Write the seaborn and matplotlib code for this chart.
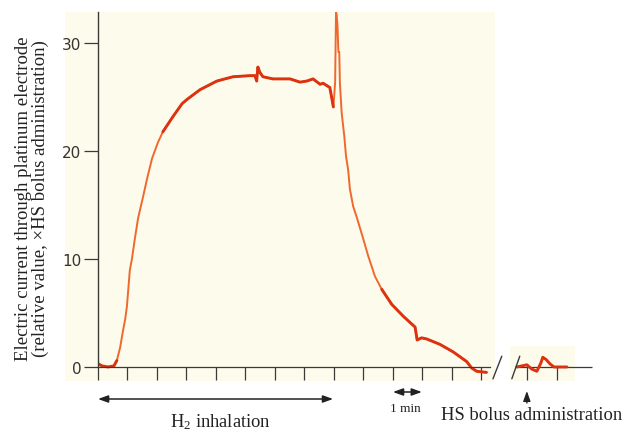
import matplotlib
matplotlib.use("Agg")
import matplotlib.pyplot as plt
import matplotlib.transforms as mtransforms
from matplotlib.patches import Rectangle
import numpy as np
import pandas as pd
import seaborn as sns

# Electrode current trace (minutes, relative value) during H2 inhalation and washout
time_min = [0.00, 0.14, 0.34, 0.54, 0.64, 0.75, 0.85, 0.92, 0.98, 1.08, 1.15, 1.25,
            1.36, 1.53, 1.66, 1.83, 2.03, 2.20, 2.37, 2.54, 2.85, 3.02, 3.46, 4.03,
            4.58, 5.15, 5.32, 5.38, 5.42, 5.49, 5.59, 5.93, 6.51, 6.85, 7.08, 7.29,
            7.53, 7.63, 7.86, 7.98, 8.01, 8.04, 8.07, 8.09, 8.12, 8.15, 8.18, 8.20,
            8.26, 8.35, 8.41, 8.48, 8.54, 8.65, 8.77, 8.99, 9.16, 9.39, 9.62, 9.96,
            10.35, 10.75, 10.78, 10.82, 10.97, 11.14, 11.59, 12.04, 12.50, 12.67,
            12.84, 13.17]
current = [0.3, 0.1, 0.0, 0.1, 0.6, 1.8, 3.4, 4.4, 5.6, 9.0, 10.0, 11.9,
           13.8, 15.8, 17.4, 19.3, 20.8, 21.8, 22.5, 23.2, 24.4, 24.8, 25.7, 26.5,
           26.9, 27.0, 27.0, 26.5, 27.8, 27.3, 26.9, 26.7, 26.7, 26.4, 26.5, 26.7,
           26.2, 26.3, 25.9, 24.1, 25.2, 26.4, 32.9, 32.7, 31.6, 29.2, 29.2, 26.4,
           23.6, 21.4, 19.5, 18.3, 16.5, 14.9, 13.9, 11.9, 10.3, 8.4, 7.2, 5.8,
           4.7, 3.7, 3.2, 2.5, 2.7, 2.6, 2.1, 1.4, 0.5, -0.1,
           -0.4, -0.5]

# Trace after the HS bolus (plotted past the axis break)
bolus_time = [14.20, 14.37, 14.54, 14.71, 14.88, 15.02, 15.08, 15.19, 15.32, 15.46, 15.66, 15.90]
bolus_current = [0.0, 0.1, 0.2, -0.2, -0.4, 0.4, 0.9, 0.7, 0.3, 0.0, 0.0, 0.0]

y_ticks = [0, 10, 20, 30]
x_ticks_main = list(range(0, 14))
x_ticks_after = [14.55, 15.55]

sns.set_theme(style="white")
plt.rcParams["font.family"] = ["DejaVu Sans"]
plt.rcParams["mathtext.fontset"] = "custom"
plt.rcParams["mathtext.rm"] = "Liberation Serif"
plt.rcParams["mathtext.it"] = "Liberation Serif:italic"

W, H = 623, 431
fig = plt.figure(figsize=(W / 100, H / 100), dpi=100, facecolor="white")

cream = "#fdfbec"
# paper-coloured strips behind the recording
fig.patches.append(Rectangle((65 / W, (H - 382) / H), 430 / W, 369 / H,
                             transform=fig.transFigure, facecolor=cream,
                             edgecolor="none", zorder=-10))
fig.patches.append(Rectangle((510 / W, (H - 382) / H), 65 / W, 35 / H,
                             transform=fig.transFigure, facecolor=cream,
                             edgecolor="none", zorder=-10))

ax = fig.add_axes([98 / W, (H - 382) / H, 502 / W, 369 / H])
ax.set_facecolor("none")
ax.set_zorder(5)

df = pd.DataFrame({"t": time_min, "i": current})
bolus_df = pd.DataFrame({"t": bolus_time, "i": bolus_current})

thin_col = "#f0682c"
thick_col = "#dd3210"
sns.lineplot(data=df, x="t", y="i", ax=ax, color=thin_col, lw=1.4, estimator=None)
for part in [df[df.t <= 0.64], df[(df.t >= 2.2) & (df.t <= 7.98)], df[df.t >= 9.4]]:
    sns.lineplot(data=part, x="t", y="i", ax=ax, color=thick_col, lw=2.1, estimator=None)
sns.lineplot(data=bolus_df, x="t", y="i", ax=ax, color=thick_col, lw=2.1, estimator=None)

ax.set_xlim(0, 17.02)
ax.set_ylim(-1.3, 32.9)
ax.set_xlabel("")
ax.set_ylabel("")

axis_col = "#3a3a3a"
for s in ["top", "right"]:
    ax.spines[s].set_visible(False)
ax.spines["left"].set_bounds(0, 32.9)
ax.spines["left"].set_color(axis_col)
ax.spines["left"].set_linewidth(1.0)
ax.spines["bottom"].set_position(("data", 0))
ax.spines["bottom"].set_bounds(0, 13.3)
ax.spines["bottom"].set_color(axis_col)
ax.spines["bottom"].set_linewidth(0.9)
ax.hlines(0, 14.13, 16.75, color=axis_col, lw=0.9, zorder=1)

ax.set_yticks(y_ticks)
ax.set_xticks(x_ticks_main + x_ticks_after)
ax.set_xticklabels([])
ax.tick_params(axis="y", direction="out", length=10, width=0.9, color=axis_col,
               labelsize=11, labelcolor="#333333", pad=2, left=True)
ax.tick_params(axis="x", direction="out", length=9.5, width=0.9, color=axis_col,
               bottom=True)

# axis break marks
for x0, x1 in [(13.39, 13.69), (14.03, 14.30)]:
    ax.plot([x0, x1], [-1.1, 1.0], color=axis_col, lw=1.0, clip_on=False)

serif = "Liberation Serif"
fig.text(32 / W, (H - 199) / H,
         "Electric current through platinum electrode\n(relative value, ×HS bolus administration)",
         rotation=90, ha="center", va="center", multialignment="center",
         family=serif, fontsize=13.5, linespacing=1.05, color="#222222")

bt = mtransforms.blended_transform_factory(ax.transData, fig.transFigure)
arrow_kw = dict(arrowstyle="<|-|>,head_length=0.5,head_width=0.18", color="#222222", lw=1.1,
                shrinkA=0, shrinkB=0)
ax.annotate("", xy=(0, (H - 400) / H), xytext=(7.97, (H - 400) / H),
            xycoords=bt, textcoords=bt, arrowprops=arrow_kw, annotation_clip=False)
ax.annotate("", xy=(10.0, (H - 393) / H), xytext=(10.98, (H - 393) / H),
            xycoords=bt, textcoords=bt, arrowprops=arrow_kw, annotation_clip=False)
ax.annotate("", xy=(14.54, (H - 392) / H), xytext=(14.54, (H - 404) / H),
            xycoords=bt, textcoords=bt,
            arrowprops=dict(arrowstyle="-|>,head_length=0.5,head_width=0.18",
                            color="#222222", lw=1.0, shrinkA=0, shrinkB=0),
            annotation_clip=False)

ax.text(4.14, (H - 422) / H, r"$\mathrm{H_2}$ inhalation", transform=bt,
        ha="center", va="center", family=serif, fontsize=13.3, color="#222222")
ax.text(10.42, (H - 409) / H, "1 min", transform=bt,
        ha="center", va="center", family=serif, fontsize=9.5, color="#222222")
ax.text(14.71, (H - 416) / H, "HS bolus administration", transform=bt,
        ha="center", va="center", family=serif, fontsize=13.4, color="#222222")

fig.savefig("out.png", dpi=100, facecolor="white")
